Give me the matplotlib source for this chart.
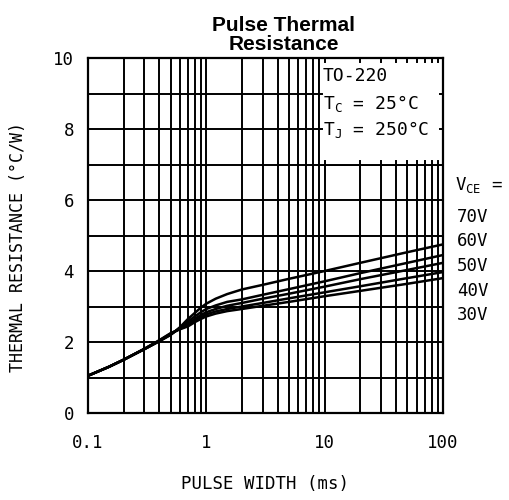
import numpy as np
import matplotlib
matplotlib.use('Agg')
import matplotlib.pyplot as plt
from matplotlib.patches import Rectangle

plt.rcParams['font.family'] = ['DejaVu Sans Mono']
plt.rcParams['mathtext.default'] = 'regular'
plt.rcParams['mathtext.fontset'] = 'custom'
plt.rcParams['mathtext.rm'] = 'DejaVu Sans Mono'

# pulse width (ms) and thermal resistance (°C/W) per VCE curve
pulse_ms = [0.1, 0.15, 0.2, 0.3, 0.4, 0.5, 0.6, 0.7, 0.8, 0.9, 1.0, 1.2, 1.5,
            2.0, 3.0, 5.0, 10.0, 20.0, 50.0, 100.0]
r_70v = [1.05, 1.30, 1.50, 1.80, 2.02, 2.20, 2.42, 2.65, 2.82, 2.97, 3.08, 3.22, 3.35,
         3.48, 3.61, 3.78, 4.00, 4.23, 4.53, 4.75]
r_60v = [1.05, 1.30, 1.50, 1.80, 2.02, 2.21, 2.40, 2.58, 2.72, 2.84, 2.93, 3.03, 3.13,
         3.20, 3.33, 3.49, 3.71, 3.94, 4.23, 4.45]
r_50v = [1.05, 1.30, 1.50, 1.80, 2.03, 2.22, 2.38, 2.52, 2.65, 2.76, 2.84, 2.93, 3.02,
         3.10, 3.22, 3.36, 3.56, 3.77, 4.03, 4.23]
r_40v = [1.05, 1.30, 1.50, 1.81, 2.04, 2.24, 2.37, 2.48, 2.60, 2.70, 2.78, 2.86, 2.93,
         3.00, 3.10, 3.23, 3.40, 3.57, 3.80, 3.97]
r_30v = [1.05, 1.30, 1.50, 1.81, 2.05, 2.25, 2.36, 2.44, 2.56, 2.65, 2.72, 2.80, 2.87,
         2.93, 3.02, 3.13, 3.29, 3.44, 3.64, 3.80]
curves = [r_70v, r_60v, r_50v, r_40v, r_30v]
vce_labels = ['70V', '60V', '50V', '40V', '30V']

x_ticks = [0.1, 1, 10, 100]
x_ticklabels = ['0.1', '1', '10', '100']
y_ticks = [0, 2, 4, 6, 8, 10]

fig = plt.figure(figsize=(5.09, 5.00), dpi=100)
ax = fig.add_axes([88/509, 87/500, 355/509, 355/500])

for r in curves:
    ax.plot(pulse_ms, r, color='black', lw=1.8, zorder=3,
            solid_capstyle='round', solid_joinstyle='round')

ax.set_xscale('log')
ax.set_xlim(0.1, 100)
ax.set_ylim(0, 10)
ax.set_xticks(x_ticks)
ax.set_xticklabels(x_ticklabels)
ax.set_yticks(y_ticks)
ax.set_yticks(range(1, 10, 2), minor=True)
ax.xaxis.set_minor_locator(matplotlib.ticker.LogLocator(base=10, subs=np.arange(2, 10)))
ax.xaxis.set_minor_formatter(matplotlib.ticker.NullFormatter())
ax.tick_params(which='both', length=0, labelsize=12.5)
ax.tick_params(axis='x', pad=15)
ax.tick_params(axis='y', pad=10)
ax.set_axisbelow(True)
ax.grid(True, which='both', color='black', lw=1.4)
for sp in ax.spines.values():
    sp.set_linewidth(1.6)

# info box in the top-right corner
box_x0 = 9.0
ax.add_patch(Rectangle((box_x0, 7.0), 100 - box_x0, 3.0, facecolor='white',
                       edgecolor='black', lw=1.4, zorder=2))
for xv in [10, 20, 30, 40, 50, 60, 70, 80, 90]:
    ax.plot([xv, xv], [10, 9.9], color='black', lw=1.4, zorder=2.5)
    ax.plot([xv, xv], [7, 7.1], color='black', lw=1.4, zorder=2.5)
for yv in [8, 9]:
    ax.plot([box_x0, box_x0 * 1.06], [yv, yv], color='black', lw=1.4, zorder=2.5)
    ax.plot([100 / 1.06, 100], [yv, yv], color='black', lw=1.4, zorder=2.5)

ax.text(9.6, 9.5, 'TO-220', fontsize=13, va='center', ha='left', zorder=4)
ax.text(9.6, 8.72, r'T$_{C}$ = 25°C', fontsize=13, va='center', ha='left', zorder=4)
ax.text(9.6, 7.98, r'T$_{J}$ = 250°C', fontsize=13, va='center', ha='left', zorder=4)

# VCE labels to the right of the plot
fig.text(455/509, 1 - 185/500, r'V$_{CE}$ =', fontsize=12.5, va='center', ha='left')
for i, lab in enumerate(vce_labels):
    fig.text(457/509, 1 - (217 + 24.5 * i)/500, lab, fontsize=12.5, va='center', ha='left')

fig.text(284/509, 1 - 35/500, 'Pulse Thermal\nResistance', fontsize=15, fontweight='bold',
         family=['Liberation Sans', 'DejaVu Sans'], ha='center', va='center', linespacing=0.95)
fig.text(18/509, 1 - 247/500, 'THERMAL RESISTANCE (°C/W)', fontsize=12, rotation=90,
         ha='center', va='center')
fig.text(265/509, 1 - 484/500, 'PULSE WIDTH (ms)', fontsize=12.5, ha='center', va='center')

fig.savefig('out.png', dpi=100)
